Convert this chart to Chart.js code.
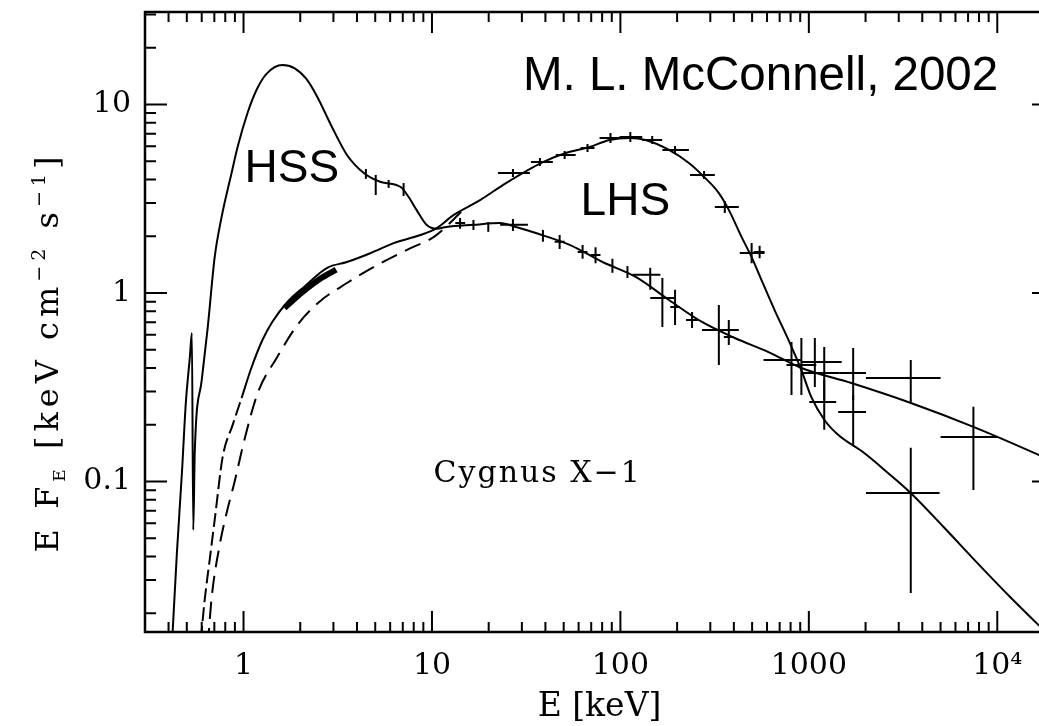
<!DOCTYPE html>
<html>
<head>
<meta charset="utf-8">
<title>Cygnus X-1 spectral states</title>
<script src="https://cdn.jsdelivr.net/npm/chart.js@4.4.1/dist/chart.umd.min.js"></script>
<style>
  html, body { margin: 0; padding: 0; background: #fff; overflow: hidden; }
</style>
</head>
<body>
<canvas id="spectrum" width="1060" height="726"></canvas>
<script>
// Cygnus X-1: E F_E spectra in the high/soft and low/hard states

// axis ranges (keV / keV cm^-2 s^-1)
const xRange = [0.3191, 20000];
const yRange = [0.01591, 30.95];

const xMajorTicks = [1, 10, 100, 1000, 10000];
const xTickLabels = ['1', '10', '100', '1000', '10⁴'];
const xMinorTicks = [0.4, 0.5, 0.6, 0.7, 0.8, 0.9,
    2, 3, 4, 5, 6, 7, 8, 9,
    20, 30, 40, 50, 60, 70, 80, 90,
    200, 300, 400, 500, 600, 700, 800, 900,
    2000, 3000, 4000, 5000, 6000, 7000, 8000, 9000, 20000];

const yMajorTicks = [0.1, 1, 10];
const yTickLabels = ['0.1', '1', '10'];
const yMinorTicks = [0.02, 0.03, 0.04, 0.05, 0.06, 0.07, 0.08, 0.09,
    0.2, 0.3, 0.4, 0.5, 0.6, 0.7, 0.8, 0.9,
    2, 3, 4, 5, 6, 7, 8, 9, 20, 30];

// high/soft state
const hssEnergy = [0.417, 0.443, 0.471, 0.494, 0.519, 0.532, 0.541, 0.551, 0.600, 0.646,
    0.703, 0.765, 0.864, 0.930, 1.05, 1.17, 1.32, 1.61, 1.86, 2.15,
    2.46, 2.91, 3.54, 4.35, 5.35, 6.82, 7.52, 8.28, 9.35, 10.6,
    11.9, 16.6, 23.0, 27.9, 35.6, 53.8, 80.4, 120, 181, 271,
    405, 611, 913, 1680, 3480, 7470, 16700, 20000];
const hssFlux = [0.0136, 0.0418, 0.111, 0.261, 0.457, 0.613, 0.0553, 0.142, 0.345, 0.660,
    1.55, 2.53, 4.33, 5.95, 9.01, 11.9, 14.5, 16.2, 15.6, 13.7,
    11.0, 7.79, 5.40, 4.33, 3.88, 3.65, 3.23, 2.76, 2.30, 2.19,
    2.24, 2.30, 2.35, 2.24, 2.08, 1.80, 1.46, 1.22, 0.918, 0.702,
    0.577, 0.486, 0.400, 0.333, 0.261, 0.195, 0.138, 0.127];

// low/hard state
const lhsEnergy = [0.593, 0.622, 0.661, 0.703, 0.775, 0.875, 0.976, 1.10, 1.26, 1.42,
    1.71, 2.10, 2.78, 3.54, 4.74, 6.26, 8.70, 10.6, 13.0, 18.0,
    24.7, 38.8, 51.3, 68.6, 87.5, 112, 136, 181, 231, 271,
    333, 376, 440, 497, 561, 658, 780, 913, 1030, 1210,
    1430, 1960, 2630, 3470, 5190, 7850, 11700, 20000];
const lhsFlux = [0.0144, 0.0235, 0.0383, 0.0625, 0.135, 0.199, 0.277, 0.400, 0.563, 0.702,
    0.896, 1.08, 1.36, 1.46, 1.63, 1.84, 2.03, 2.21, 2.59, 3.11,
    3.83, 4.95, 5.53, 5.95, 6.48, 6.64, 6.48, 5.74, 4.89, 4.23,
    3.39, 2.76, 1.98, 1.55, 1.17, 0.812, 0.563, 0.390, 0.281, 0.212,
    0.177, 0.142, 0.111, 0.0869, 0.0574, 0.0369, 0.0244, 0.0144];

// low/hard state, dashed model below 15 keV
const lhsModelEnergy = [0.646, 0.678, 0.747, 0.813, 0.896, 1.01, 1.19, 1.51, 1.93, 2.52,
    3.54, 5.35, 7.70, 10.2, 14.7];
const lhsModelFlux = [0.0136, 0.0244, 0.0460, 0.0681, 0.0994, 0.166, 0.295, 0.458, 0.676, 0.896,
    1.13, 1.44, 1.73, 1.98, 2.76];

// densely sampled low/hard data around 2-3 keV
const lhsDenseEnergy = [1.65, 2.05, 2.55, 3.10];
const lhsDenseFlux = [0.833, 1.01, 1.19, 1.33];

// error crosses: [E, E low, E high, flux, flux low, flux high]
const hssCrosses = [
    [4.46, 4.46, 4.46, 4.28, 4.03, 4.55],
    [5.03, 5.03, 5.03, 3.93, 3.31, 4.23],
    [5.89, 5.89, 5.89, 3.79, 3.61, 3.98],
    [7.07, 7.07, 7.07, 3.56, 3.27, 3.83],
    [14.1, 13.3, 15.0, 2.35, 2.19, 2.50],
    [16.6, 16.6, 16.6, 2.30, 2.16, 2.44],
    [19.9, 19.9, 19.9, 2.24, 2.11, 2.38],
    [26.9, 23.0, 32.3, 2.30, 2.13, 2.47],
    [38.8, 38.8, 38.8, 2.01, 1.87, 2.16],
    [47.6, 44.8, 50.6, 1.87, 1.71, 2.03],
    [63.0, 59.3, 66.9, 1.65, 1.52, 1.80],
    [73.8, 69.5, 78.4, 1.59, 1.44, 1.75],
    [90.7, 90.7, 90.7, 1.39, 1.28, 1.52],
    [109, 109, 109, 1.29, 1.20, 1.39],
    [144, 116, 163, 1.25, 1.04, 1.36],
    [167, 144, 193, 0.941, 0.660, 1.20],
    [195, 184, 207, 0.843, 0.676, 1.04],
    [240, 223, 258, 0.719, 0.652, 0.793],
    [333, 271, 425, 0.636, 0.415, 0.864],
    [376, 354, 400, 0.584, 0.530, 0.719],
    [809, 575, 913, 0.441, 0.288, 0.550],
    [1076, 913, 1494, 0.431, 0.317, 0.577],
    [1207, 913, 1450, 0.376, 0.271, 0.517],
    [1719, 1450, 2011, 0.376, 0.271, 0.511],
    [3474, 2011, 5002, 0.354, 0.264, 0.441],
    [7470, 5002, 10000, 0.172, 0.0902, 0.249]
];
const lhsCrosses = [
    [26.9, 22.4, 33.1, 4.33, 4.13, 4.55],
    [37.4, 33.5, 43.8, 4.95, 4.72, 5.20],
    [50.6, 45.4, 57.9, 5.40, 5.14, 5.67],
    [66.9, 61.5, 72.9, 5.88, 5.60, 6.17],
    [88.6, 77.5, 102.5, 6.64, 6.25, 7.06],
    [112.9, 98.8, 130.6, 6.72, 6.32, 7.15],
    [147.5, 130.6, 166.6, 6.48, 6.17, 6.81],
    [195, 167, 231, 5.74, 5.46, 6.02],
    [278, 234, 317, 4.23, 4.03, 4.44],
    [358, 317, 425, 2.86, 2.66, 3.08],
    [497, 430, 582, 1.63, 1.44, 1.84],
    [548, 510, 582, 1.65, 1.53, 1.78],
    [913, 761, 1095, 0.415, 0.288, 0.577],
    [1207, 1006, 1397, 0.264, 0.188, 0.346],
    [1719, 1431, 2011, 0.234, 0.156, 0.288],
    [3474, 2011, 4941, 0.0869, 0.0256, 0.151]
];

// text notes, placed at (E, flux) with the text's left baseline
const noteText = ['M. L. McConnell, 2002', 'HSS', 'LHS', 'Cygnus X−1'];
const noteEnergy = [30.4, 1.012, 61.5, 10.2];
const noteFlux = [11.94, 3.88, 2.59, 0.0994];

const serif = "'DejaVu Serif', 'Liberation Serif', serif";
const sans = "'Liberation Sans', Arial, sans-serif";
const noteFonts = ['47.5px ' + sans, '46px ' + sans, '46px ' + sans, '30px ' + serif];
const noteSpacing = ['0px', '0px', '0px', '2px'];

function curve(energy, flux, extra) {
    return Object.assign({
        data: energy.map((e, i) => ({ x: e, y: flux[i] })),
        showLine: true,
        borderColor: '#000',
        borderWidth: 2,
        pointRadius: 0,
        cubicInterpolationMode: 'monotone',
        fill: false
    }, extra);
}

// frame, inward ticks on all four sides, error crosses and text
const spectrumDecor = {
    id: 'spectrumDecor',
    afterDatasetsDraw(chart) {
        const { ctx, chartArea: a, scales: { x, y } } = chart;

        ctx.save();
        ctx.beginPath();
        ctx.rect(a.left, a.top, a.right - a.left, a.bottom - a.top);
        ctx.clip();
        ctx.strokeStyle = '#000';
        ctx.lineWidth = 2;
        [...hssCrosses, ...lhsCrosses].forEach(([e, eLo, eHi, f, fLo, fHi]) => {
            const px = x.getPixelForValue(e);
            const py = y.getPixelForValue(f);
            ctx.beginPath();
            if (eHi > eLo) {
                ctx.moveTo(x.getPixelForValue(eLo), py);
                ctx.lineTo(x.getPixelForValue(eHi), py);
            }
            ctx.moveTo(px, y.getPixelForValue(fLo));
            ctx.lineTo(px, y.getPixelForValue(fHi));
            ctx.stroke();
        });
        ctx.restore();

        ctx.save();
        ctx.strokeStyle = '#000';
        ctx.lineWidth = 2;
        const xTick = (v, len) => {
            const px = x.getPixelForValue(v);
            ctx.moveTo(px, a.bottom); ctx.lineTo(px, a.bottom - len);
            ctx.moveTo(px, a.top); ctx.lineTo(px, a.top + len);
        };
        const yTick = (v, len) => {
            const py = y.getPixelForValue(v);
            ctx.moveTo(a.left, py); ctx.lineTo(a.left + len, py);
            ctx.moveTo(a.right, py); ctx.lineTo(a.right - len, py);
        };
        ctx.beginPath();
        xMajorTicks.forEach(v => xTick(v, 21));
        xMinorTicks.forEach(v => xTick(v, 10));
        yMajorTicks.forEach(v => yTick(v, 22));
        yMinorTicks.forEach(v => yTick(v, 11));
        ctx.stroke();
        ctx.lineWidth = 2.5;
        ctx.strokeRect(a.left, a.top, a.right - a.left, a.bottom - a.top);
        ctx.restore();
    },
    afterDraw(chart) {
        const { ctx, scales: { x, y } } = chart;
        ctx.save();
        ctx.fillStyle = '#000';
        ctx.textBaseline = 'alphabetic';
        ctx.textAlign = 'left';
        noteText.forEach((t, i) => {
            ctx.font = noteFonts[i];
            ctx.letterSpacing = noteSpacing[i];
            ctx.fillText(t, x.getPixelForValue(noteEnergy[i]), y.getPixelForValue(noteFlux[i]));
        });
        ctx.restore();

        // y axis title with sub- and superscripts, read bottom to top
        const parts = [
            { t: 'E F', size: 32, dy: 0 },
            { t: 'E', size: 17, dy: 7 },
            { t: ' [keV cm', size: 32, dy: 0 },
            { t: '−2', size: 19, dy: -13 },
            { t: ' s', size: 32, dy: 0 },
            { t: '−1', size: 19, dy: -13 },
            { t: ']', size: 32, dy: 0 }
        ];
        ctx.save();
        ctx.fillStyle = '#000';
        ctx.textBaseline = 'alphabetic';
        ctx.letterSpacing = '5px';
        let total = 0;
        parts.forEach(p => {
            ctx.font = p.size + 'px ' + serif;
            p.w = ctx.measureText(p.t).width;
            total += p.w;
        });
        ctx.translate(58, 352);
        ctx.rotate(-Math.PI / 2);
        let pos = -total / 2;
        parts.forEach(p => {
            ctx.font = p.size + 'px ' + serif;
            ctx.fillText(p.t, pos, p.dy);
            pos += p.w;
        });
        ctx.restore();
    }
};

Chart.defaults.font.family = serif;
Chart.defaults.color = '#000';

new Chart(document.getElementById('spectrum'), {
    type: 'scatter',
    data: {
        datasets: [
            curve(hssEnergy, hssFlux, {}),
            curve(lhsEnergy, lhsFlux, {
                segment: { borderDash: c => c.p1.parsed.x < 0.98 ? [14, 5] : undefined }
            }),
            curve(lhsModelEnergy, lhsModelFlux, { borderDash: [17, 9] }),
            curve(lhsDenseEnergy, lhsDenseFlux, { borderWidth: 6 })
        ]
    },
    options: {
        responsive: false,
        animation: false,
        layout: { padding: { top: 12, right: 6, left: 0, bottom: 0 } },
        plugins: {
            legend: { display: false },
            tooltip: { enabled: false }
        },
        scales: {
            x: {
                type: 'logarithmic',
                min: xRange[0],
                max: xRange[1],
                afterBuildTicks: s => { s.ticks = xMajorTicks.map(v => ({ value: v })); },
                afterFit: s => {
                    s.height = 94;
                    s.paddingLeft = 0;
                    s.paddingRight = 0;
                },
                grid: { display: false },
                border: { display: false },
                ticks: {
                    autoSkip: false,
                    maxRotation: 0,
                    padding: 8,
                    color: '#000',
                    font: { family: serif, size: 30 },
                    callback: (v, i) => xTickLabels[i]
                },
                title: {
                    display: true,
                    text: 'E [keV]',
                    color: '#000',
                    font: { family: serif, size: 33, lineHeight: 1.1 },
                    padding: { top: 0, bottom: 0 }
                }
            },
            y: {
                type: 'logarithmic',
                min: yRange[0],
                max: yRange[1],
                afterBuildTicks: s => { s.ticks = yMajorTicks.map(v => ({ value: v })); },
                afterFit: s => {
                    s.width = 145;
                    s.paddingTop = 0;
                    s.paddingBottom = 0;
                },
                grid: { display: false },
                border: { display: false },
                ticks: {
                    autoSkip: false,
                    padding: 6,
                    color: '#000',
                    font: { family: serif, size: 30 },
                    callback: (v, i) => yTickLabels[i]
                }
            }
        }
    },
    plugins: [spectrumDecor]
});
</script>
</body>
</html>
